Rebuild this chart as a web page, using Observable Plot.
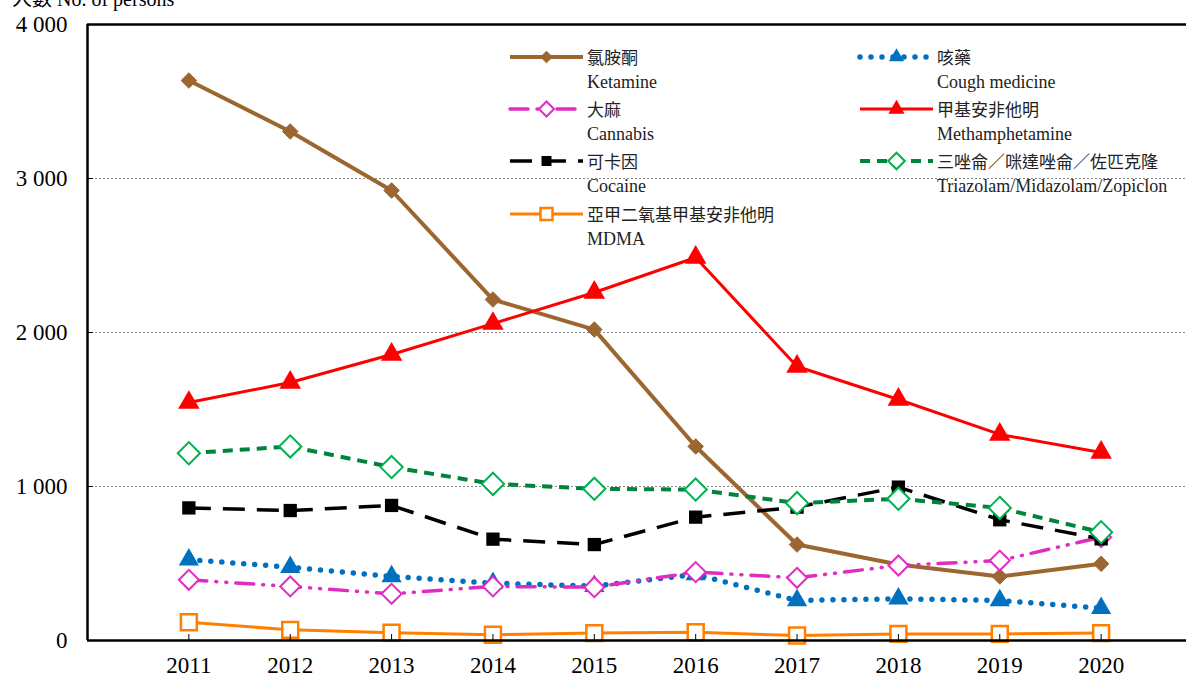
<!DOCTYPE html>
<html>
<head>
<meta charset="utf-8">
<script src="https://cdn.jsdelivr.net/npm/d3@7"></script>
<script src="https://cdn.jsdelivr.net/npm/@observablehq/plot@0.6"></script>
<style>
  html, body { margin: 0; padding: 0; background: #fff; overflow: hidden; width: 1186px; height: 678px; }
  #wrap { position: relative; width: 1186px; height: 678px; overflow: hidden; font-family: "Liberation Serif", "Noto Sans CJK TC", serif; }
  #chart svg { max-width: none !important; display: block; }
  #title { position: absolute; left: 12px; top: -14px; font-size: 20px; line-height: 24px; white-space: nowrap; }
  .leg { position: absolute; font-size: 18px; line-height: 24px; white-space: nowrap; color: #222; }
  .leg svg { position: absolute; }
  .leg .zh { font-family: "Noto Sans CJK TC", sans-serif; font-size: 17px; }
</style>
</head>
<body>
<div id="wrap">
  <div id="chart"></div>
  <div id="title"><span style="font-family:'Noto Sans CJK TC'">人數</span> No. of persons</div>
  <div id="legend"></div>
</div>
<script>
const years = [2011, 2012, 2013, 2014, 2015, 2016, 2017, 2018, 2019, 2020];
const ketamine  = [3636, 3305, 2922, 2214, 2019, 1260, 623, 494, 416, 498];
const cough     = [525, 476, 416, 372, 353, 429, 260, 271, 260, 210];
const cannabis  = [394, 351, 303, 351, 346, 444, 407, 487, 519, 671];
const meth      = [1545, 1675, 1857, 2058, 2260, 2487, 1779, 1565, 1338, 1221];
const cocaine   = [861, 844, 877, 658, 623, 801, 866, 996, 784, 660];
const triazolam = [1216, 1260, 1126, 1017, 985, 980, 892, 920, 861, 703];
const mdma      = [119, 69, 50, 37, 48, 54, 32, 43, 43, 48];
const yTicks = [0, 1000, 2000, 3000, 4000];
const gridTicks = [1000, 2000, 3000];

const seriesDefs = [
  {zh: "氯胺酮", en: "Ketamine", values: ketamine, line: "#9C6631", width: 4, dash: null, symbol: "diamond2", r: 7, fill: "#9C6631", mstroke: "#9C6631", msw: 1},
  {zh: "咳藥", en: "Cough medicine", values: cough, line: "#0070C0", width: 5.5, dash: "0,11", cap: "round", symbol: "triangle", r: 7.5, fill: "#0070C0", mstroke: "none", msw: 0},
  {zh: "大麻", en: "Cannabis", values: cannabis, line: "#E02DC0", width: 3.5, dash: "18,9,1,9,1,9", cap: "round", symbol: "diamond2", r: 9, fill: "#fff", mstroke: "#E02DC0", msw: 2},
  {zh: "甲基安非他明", en: "Methamphetamine", values: meth, line: "#FF0000", width: 3, dash: null, symbol: "triangle", r: 8, fill: "#FF0000", mstroke: "none", msw: 0},
  {zh: "可卡因", en: "Cocaine", values: cocaine, line: "#000000", width: 3.5, dash: "22,12", symbol: "square", r: 7.5, fill: "#000", mstroke: "none", msw: 0},
  {zh: "三唑侖／咪達唑侖／佐匹克隆", en: "Triazolam/Midazolam/Zopiclon", values: triazolam, line: "#00843C", width: 4, dash: "10,7", symbol: "diamond2", r: 10, fill: "#fff", mstroke: "#00B050", msw: 2},
  {zh: "亞甲二氧基甲基安非他明", en: "MDMA", values: mdma, line: "#FF8000", width: 3, dash: null, symbol: "square", r: 9, fill: "#fff", mstroke: "#FF8000", msw: 2.5}
];

const drawOrder = [0, 1, 2, 3, 4, 5, 6];
const marks = [];
marks.push(Plot.ruleY(gridTicks, {stroke: "#888", strokeWidth: 1, strokeDasharray: "2,2"}));
for (const i of drawOrder) {
  const s = seriesDefs[i];
  const rows = years.map((y, j) => ({year: y, value: s.values[j]}));
  marks.push(Plot.line(rows, {x: "year", y: "value", stroke: s.line, strokeWidth: s.width,
    strokeDasharray: s.dash || undefined, strokeLinecap: s.cap || "butt", strokeLinejoin: "round"}));
  marks.push(Plot.dot(rows, {x: "year", y: "value", symbol: () => s.symbol, r: s.r, fill: s.fill,
    stroke: s.mstroke, strokeWidth: s.msw}));
}
marks.push(Plot.ruleY([0], {stroke: "#000", strokeWidth: 2.5}));
marks.push(Plot.ruleY([4000], {stroke: "#000", strokeWidth: 2.5}));
marks.push(Plot.ruleX([2010], {stroke: "#000", strokeWidth: 2.5}));
marks.push(Plot.axisY({ticks: yTicks, tickSize: 0, tickPadding: 20, fontSize: 23, label: null,
  tickFormat: d => d3.format(",")(d).replace(/,/g, " ")}));
marks.push(Plot.axisY({ticks: gridTicks, tickSize: -6, fill: "none", stroke: "#000", label: null}));
marks.push(Plot.axisX({ticks: years, tickSize: 0, tickPadding: 16, fontSize: 23, label: null, tickFormat: d => String(d)}));
marks.push(Plot.axisX({ticks: years, tickSize: -6, fill: "none", stroke: "#000", label: null}));

const chart = Plot.plot({
  width: 1220,
  height: 678,
  marginTop: 24,
  marginBottom: 38,
  marginLeft: 87,
  marginRight: 18,
  style: {fontFamily: "'Liberation Serif', serif", color: "#000", background: "#fff", overflow: "visible", maxWidth: "none"},
  x: {domain: [2010, 2021], label: null},
  y: {domain: [0, 4000], label: null},
  symbol: {type: "identity"},
  marks
});
document.getElementById("chart").appendChild(chart);

// legend
const legend = document.getElementById("legend");
const legPos = [
  {lx: 510, tx: 587, cy: 57},
  {lx: 860, tx: 937, cy: 57},
  {lx: 510, tx: 587, cy: 109},
  {lx: 860, tx: 937, cy: 109},
  {lx: 510, tx: 587, cy: 161},
  {lx: 860, tx: 937, cy: 161},
  {lx: 510, tx: 587, cy: 214}
];
const symPath = (name, r) => {
  const map = {diamond2: d3.symbolDiamond2, triangle: d3.symbolTriangle, square: d3.symbolSquare};
  return d3.symbol(map[name], Math.PI * r * r)();
};
seriesDefs.forEach((s, i) => {
  const p = legPos[i];
  const div = document.createElement("div");
  div.className = "leg";
  div.style.left = p.lx + "px";
  div.style.top = (p.cy - 12) + "px";
  const w = p.tx - p.lx - 4;
  const dash = s.dash ? `stroke-dasharray="${s.dash}"` : "";
  div.innerHTML = `<svg width="${w}" height="24" style="left:0;top:0;overflow:visible">
      <line x1="0" x2="${w}" y1="12" y2="12" stroke="${s.line}" stroke-width="${s.width}" ${dash} stroke-linecap="${s.cap || 'butt'}"/>
      <path d="${symPath(s.symbol, s.r * 0.75)}" transform="translate(${w / 2},12)" fill="${s.fill}" stroke="${s.mstroke}" stroke-width="${s.msw}"/>
    </svg>
    <div class="zh" style="position:absolute;left:${p.tx - p.lx}px;top:0">${s.zh}</div>
    <div style="position:absolute;left:${p.tx - p.lx}px;top:25px">${s.en}</div>`;
  legend.appendChild(div);
});
</script>
</body>
</html>
